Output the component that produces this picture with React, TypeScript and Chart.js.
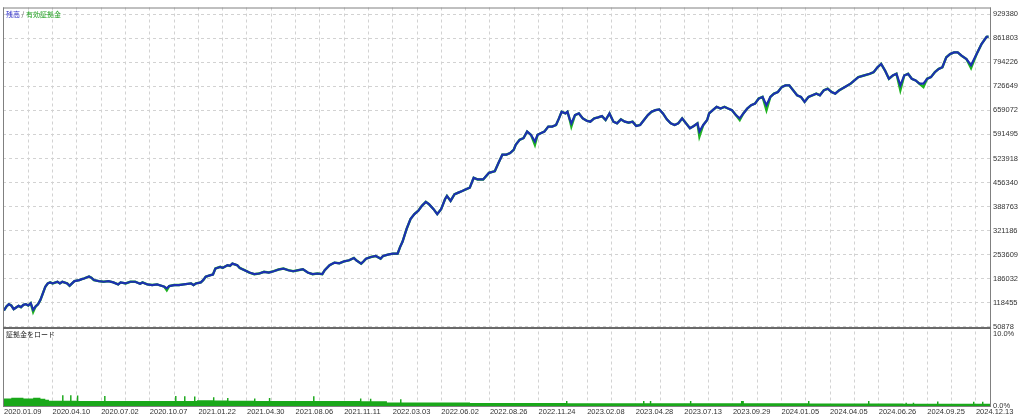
import React, { useEffect, useRef } from "react";
import { Chart, registerables } from "chart.js";

Chart.register(...registerables);

// ---------- data ----------
const xTickLabels = [
  "2020.01.09", "2020.04.10", "2020.07.02", "2020.10.07", "2021.01.22", "2021.04.30",
  "2021.08.06", "2021.11.11", "2022.03.03", "2022.06.02", "2022.08.26", "2022.11.24",
  "2023.02.08", "2023.04.28", "2023.07.13", "2023.09.29", "2024.01.05", "2024.04.05",
  "2024.06.26", "2024.09.25", "2024.12.13",
];

const yTickValues = [
  50878, 118455, 186032, 253609, 321186, 388763, 456340, 523918, 591495, 659072,
  726649, 794226, 861803, 929380,
];

const loadTickValues = [0, 10];

// trade index (x) and balance (y)
const balanceIdx = [
  0, 1, 2, 3, 4, 5, 6, 7, 8, 9, 10, 11, 12, 13, 14, 15, 16, 17, 18, 19, 20, 22, 23, 24, 26, 27,
  28, 29, 31, 32, 33, 35, 36, 37, 39, 41, 43, 45, 47, 48, 50, 52, 54, 56, 57, 59, 61, 63, 66, 67,
  68, 70, 72, 74, 77, 78, 79, 81, 82, 83, 85, 86, 87, 89, 90, 92, 93, 94, 96, 97, 99, 101, 103,
  105, 107, 109, 111, 113, 115, 117, 119, 121, 123, 125, 127, 129, 131, 132, 134, 136, 138, 140,
  142, 144, 145, 147, 148, 149, 151, 153, 155, 156, 158, 160, 162, 163, 164,
  165.7, 167.3, 168.9, 170.5, 172.0, 173.6, 174.9, 176.8, 178.3, 179.9, 181.5, 182.3, 183.8,
  185.4, 187.0, 188.6, 190.1, 191.7, 193.3, 194.9, 197.2, 199.6, 202.0, 203.5, 205.1, 206.7,
  208.3, 209.8, 210.6, 212.2, 213.8, 215.3, 216.9, 218.5, 219.6, 220.9, 222.4, 224.0, 225.6,
  227.2, 228.4, 229.5, 231.1, 231.9, 232.7, 233.5, 235.0, 236.6, 238.2, 239.8, 241.3, 242.9,
  244.5, 246.1, 247.6, 249.2, 250.8, 252.3, 253.9, 255.5, 257.1, 258.7, 260.2, 261.8, 263.4,
  265.0, 266.5, 268.1, 269.7, 271.2, 272.8, 274.4, 276.0, 277.5, 279.1, 280.7, 282.3, 283.9,
  285.4, 286.2, 287.8, 289.4, 290.2, 291.7, 293.3, 294.9, 296.5, 298.0, 299.6, 301.2, 302.8,
  304.3, 305.9, 307.5, 309.1, 310.6, 312.2, 313.8, 315.4, 316.9, 318.5, 320.1, 321.6, 323.2,
  324.8, 326.4, 328.0, 329.5, 331.1, 332.7, 334.3, 335.8, 337.4, 339.0, 340.6, 342.1, 343.7,
  346.1, 348.4, 350.0, 351.6, 353.9, 356.3, 357.9, 359.5, 361.0, 362.6, 364.2, 365.8, 367.3,
  368.9, 370.5, 372.1, 373.6, 375.2, 376.8, 378.4, 379.9, 381.5, 383.1, 384.7, 386.2, 387.8,
  389.4, 391.0, 392.5, 394.1, 396.1, 398.0, 400.3, 402.3, 404.4, 405.2,
];
const balanceVal = [
  97000, 108100, 114600, 110900, 100700, 105400, 110000, 106300, 112800, 114600, 110900, 117400,
  98900, 108100, 114600, 126700, 145200, 163700, 173000, 175800, 173000, 177700, 173000, 177700,
  173000, 166500, 173000, 179500, 182300, 185100, 186900, 192500, 188800, 182300, 179500, 177700,
  179500, 175800, 170200, 175800, 173000, 177700, 177700, 172100, 175800, 170200, 168400, 170200,
  163700, 159100, 165600, 168400, 168400, 170200, 173000, 168400, 173000, 175800, 182300, 191600,
  196200, 198100, 214700, 219400, 216600, 224000, 222200, 228600, 224000, 216600, 210100, 203600,
  199000, 200800, 205500, 203600, 207300, 212000, 214700, 210100, 207300, 210100, 212900, 203600,
  199000, 200800, 199000, 210100, 224000, 231400, 229600, 235100, 237900, 244400, 237900, 228600,
  235100, 242500, 247200, 250000, 242500, 250000, 253700, 256500, 256500, 275000, 290000,
  326000, 353800, 367700, 377000, 390900, 402000, 395500, 381600, 367700, 381600, 409400, 418700,
  404800, 423300, 428000, 432600, 437200, 441900, 469700, 465000, 465000, 483600, 488200, 511400,
  534600, 534600, 539200, 548500, 562400, 576300, 581000, 599500, 590200, 571700, 590200, 594800,
  599500, 613400, 613400, 618000, 636500, 655100, 650400, 655100, 636500, 622600, 645800, 650400,
  636500, 630000, 627300, 636500, 639300, 643000, 631900, 650400, 627300, 622600, 633800, 627300,
  624500, 627300, 615200, 618000, 631900, 645800, 655100, 659700, 661600, 650400, 633800, 622600,
  618000, 622600, 636500, 622600, 608700, 615200, 622600, 599500, 618000, 631900, 650400, 659700,
  669000, 664300, 669000, 664300, 659700, 645800, 636500, 650400, 664300, 673600, 678200, 692200,
  696800, 673600, 696800, 706100, 710700, 724600, 729200, 729200, 715300, 701400, 696800, 682900,
  696800, 701400, 706100, 701400, 715300, 720000, 710700, 706100, 715300, 724600, 733900, 743100,
  752400, 757000, 761700, 766300, 780200, 789500, 770900, 747800, 757000, 761700, 729200, 757000,
  761700, 747800, 743100, 733900, 733900, 747800, 752400, 766300, 775600, 780200, 808000, 817300,
  821900, 821900, 812700, 803400, 786000, 817300, 845100, 865500, 866000,
];

// equity dips below balance
const equityDipIdx = [12, 67, 218.5, 233.5, 286.2, 302.8, 313.8, 368.9, 378.4, 398.0];
const equityDipVal = [93000, 154000, 562300, 613500, 585500, 631800, 659700, 715300, 724600, 778000];

// deposit load (%)
const loadIdx = [
  0, 3, 8, 12, 15, 17, 18.5, 23.9, 24.5, 27.2, 27.8, 30, 30.6, 41.2, 41.8, 70.4, 71, 74.1, 74.7,
  78.2, 78.8, 79.4, 86, 86.6, 91.8, 92.4, 102.9, 103.5, 109, 109.6, 127.2, 127.8, 146.5, 147.1,
  150.6, 151.2, 157.6, 163, 163.6, 191.8, 231.3, 231.9, 263, 263.6, 265.8, 266.4, 282.3, 282.9,
  303.3, 304.5, 330.9, 331.5, 355.6, 356.2, 370, 371, 371.6, 374, 374.6, 384, 384.6, 398.8, 399.4,
  402.5, 403.1, 405.8,
];
const loadPct = [
  1.05, 1.15, 1.05, 1.15, 1.0, 0.85, 0.72, 1.5, 0.72, 1.5, 0.72, 1.45, 0.7, 1.4, 0.68, 1.4, 0.68,
  1.35, 0.68, 1.3, 0.68, 0.78, 1.2, 0.75, 1.1, 0.72, 1.05, 0.7, 1.1, 0.7, 1.35, 0.68, 1.05, 0.66,
  1.0, 0.66, 0.5, 0.95, 0.5, 0.4, 0.7, 0.38, 0.7, 0.38, 0.7, 0.38, 0.68, 0.38, 0.7, 0.38, 0.68,
  0.36, 0.7, 0.36, 0.3, 0.45, 0.3, 0.45, 0.3, 0.62, 0.3, 0.6, 0.3, 0.6, 0.3, 0.3,
];

// ---------- styles ----------
const BALANCE_COLOR = "#1c30b0";
const EQUITY_COLOR = "#1fb31f";
const LOAD_COLOR = "#1aa81a";
const GRID_COLOR = "#d2d2d2";
const FRAME_COLOR = "#808080";
const TEXT_COLOR = "#333333";
const FONT = "Liberation Sans";

const balancePoints = balanceIdx.map((x, i) => ({ x, y: balanceVal[i] }));
const equityPoints = (() => {
  const m = new Map<number, number>();
  balanceIdx.forEach((x, i) => m.set(x, balanceVal[i]));
  equityDipIdx.forEach((x, i) => {
    const cur = m.get(x);
    m.set(x, cur === undefined ? equityDipVal[i] : Math.min(cur, equityDipVal[i]));
  });
  return Array.from(m.entries())
    .sort((a, b) => a[0] - b[0])
    .map(([x, y]) => ({ x, y }));
})();
const loadPoints = loadIdx.map((x, i) => ({ x, y: loadPct[i] }));

const framePlugin = {
  id: "mtFrame",
  afterDraw(chart: any) {
    const { ctx, chartArea } = chart;
    const yTop = chart.scales.y;
    const l = chartArea.left;
    const r = chartArea.right;
    ctx.save();
    ctx.strokeStyle = FRAME_COLOR;
    ctx.lineWidth = 1;
    ctx.beginPath();
    ctx.moveTo(l, chartArea.top + 0.5);
    ctx.lineTo(r + 1, chartArea.top + 0.5);
    ctx.moveTo(l + 0.5, chartArea.top);
    ctx.lineTo(l + 0.5, chartArea.bottom);
    ctx.moveTo(r + 0.5, chartArea.top);
    ctx.lineTo(r + 0.5, chartArea.bottom + 1);
    ctx.moveTo(l, chartArea.bottom + 0.5);
    ctx.lineTo(r + 1, chartArea.bottom + 0.5);
    ctx.stroke();
    ctx.fillStyle = "#6a6a6a";
    ctx.fillRect(l, Math.round(yTop.bottom) - 1, r - l + 1, 2);

    ctx.textBaseline = "middle";
    ctx.textAlign = "left";
    ctx.font = `7px "Noto Sans CJK JP"`;
    let x = l + 3;
    const ty = chartArea.top + 6.5;
    ctx.fillStyle = "#2c2cc8";
    ctx.fillText("残高", x, ty);
    x += ctx.measureText("残高").width;
    ctx.fillStyle = "#555555";
    ctx.fillText(" / ", x, ty);
    x += ctx.measureText(" / ").width;
    ctx.fillStyle = "#1f9f1f";
    ctx.fillText("有効証拠金", x, ty);

    ctx.fillStyle = "#222222";
    ctx.fillText("証拠金をロード", l + 3, yTop.bottom + 6.5);
    ctx.restore();
  },
};

const tickFont = { family: FONT, size: 7.5 };

export default function App() {
  const ref = useRef<HTMLCanvasElement>(null);

  useEffect(() => {
    document.body.style.margin = "0";
    const canvas = ref.current;
    if (!canvas) return;
    const chart = new Chart(canvas, {
      type: "line",
      data: {
        datasets: [
          {
            label: "balance",
            data: balancePoints,
            borderColor: BALANCE_COLOR,
            borderWidth: 2.2,
            pointRadius: 0,
            tension: 0,
            yAxisID: "y",
            xAxisID: "x",
            order: 1,
          },
          {
            label: "equity",
            data: equityPoints,
            borderColor: EQUITY_COLOR,
            borderWidth: 2.4,
            pointRadius: 0,
            tension: 0,
            yAxisID: "y",
            xAxisID: "x",
            order: 2,
          },
          {
            label: "load",
            data: loadPoints,
            borderColor: LOAD_COLOR,
            backgroundColor: LOAD_COLOR,
            borderWidth: 0,
            pointRadius: 0,
            stepped: true,
            fill: "origin",
            yAxisID: "y2",
            xAxisID: "x",
            order: 3,
          },
        ],
      },
      options: {
        responsive: false,
        animation: false,
        events: [],
        layout: { padding: { top: 3, left: 3, right: 0, bottom: 0 } },
        plugins: {
          legend: { display: false },
          tooltip: { enabled: false },
          title: { display: false },
        },
        scales: {
          x: {
            type: "linear",
            position: "bottom",
            min: -0.41,
            max: 405.8,
            afterBuildTicks: (s: any) => {
              s.ticks = Array.from({ length: 41 }, (_, i) => ({ value: i * 10 }));
            },
            afterFit: (s: any) => {
              s.height = 13;
            },
            ticks: {
              autoSkip: false,
              maxRotation: 0,
              minRotation: 0,
              align: "start",
              padding: 1,
              color: TEXT_COLOR,
              font: tickFont,
              callback: (v: any) => (v % 20 === 0 ? xTickLabels[v / 20] : ""),
            },
            grid: { color: GRID_COLOR, drawTicks: false, lineWidth: 1 },
            border: { display: false, dash: [3, 3] },
          },
          y: {
            type: "linear",
            position: "right",
            stack: "panels",
            stackWeight: 324,
            min: 48100,
            max: 948000,
            afterBuildTicks: (s: any) => {
              s.ticks = yTickValues.map((v) => ({ value: v }));
            },
            afterFit: (s: any) => {
              s.width = 34;
            },
            ticks: {
              autoSkip: false,
              padding: 3,
              color: TEXT_COLOR,
              font: tickFont,
              callback: (v: any) => String(v),
            },
            grid: { color: GRID_COLOR, drawTicks: false, lineWidth: 1 },
            border: { display: false, dash: [3, 3] },
          },
          y2: {
            type: "linear",
            position: "right",
            stack: "panels",
            stackWeight: 79,
            min: 0,
            max: 10.82,
            afterBuildTicks: (s: any) => {
              s.ticks = loadTickValues.map((v) => ({ value: v }));
            },
            afterFit: (s: any) => {
              s.width = 34;
            },
            ticks: {
              autoSkip: false,
              padding: 3,
              color: TEXT_COLOR,
              font: tickFont,
              callback: (v: any) => Number(v).toFixed(1) + "%",
            },
            grid: { display: false, drawTicks: false },
            border: { display: false },
          },
        },
      } as any,
      plugins: [framePlugin],
    });
    return () => chart.destroy();
  }, []);

  return (
    <div style={{ position: "fixed", left: 0, top: 0, width: 1024, height: 419, background: "#ffffff" }}>
      <canvas ref={ref} width={1024} height={419} style={{ display: "block" }} />
    </div>
  );
}
